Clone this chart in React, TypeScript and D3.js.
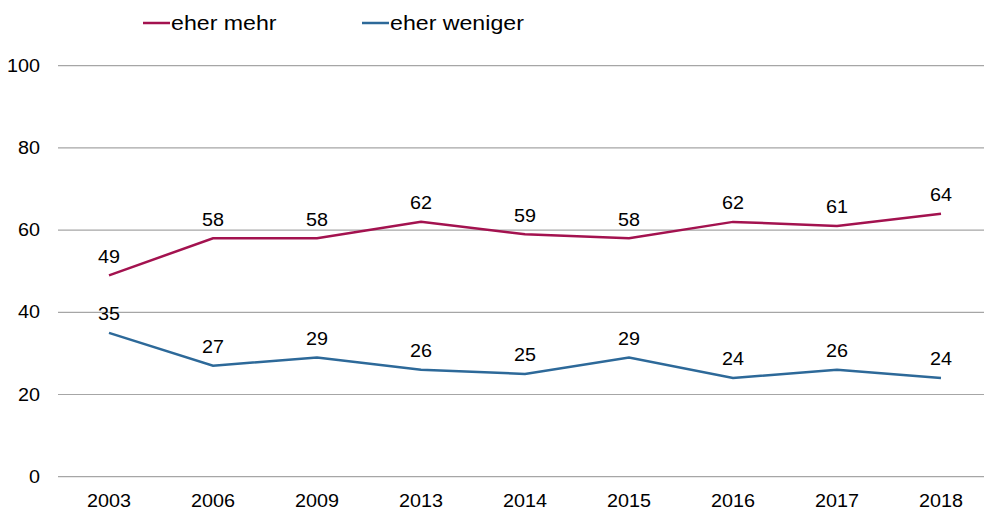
import React from "react";
import * as d3 from "d3";

const categories = ["2003", "2006", "2009", "2013", "2014", "2015", "2016", "2017", "2018"];
const eherMehr = [49, 58, 58, 62, 59, 58, 62, 61, 64];
const eherWeniger = [35, 27, 29, 26, 25, 29, 24, 26, 24];
const yTicks = [0, 20, 40, 60, 80, 100];
const seriesNames = ["eher mehr", "eher weniger"];
const colors = ["#A3124F", "#2D6999"];

const SX = 1.13;

function T(props: { x: number; y: number; size: number; anchor?: string; children: React.ReactNode; dy?: string }) {
  return (
    <text
      transform={`translate(${props.x},${props.y}) scale(${SX},1)`}
      textAnchor={props.anchor || "start"}
      fontSize={props.size}
      dy={props.dy}
      fill="#000"
    >
      {props.children}
    </text>
  );
}

export default function App() {
  const W = 984, H = 510;
  const x = d3.scalePoint<string>().domain(categories).range([109, 941]);
  const y = d3.scaleLinear().domain([0, 100]).range([476.7, 65.7]);
  const line = d3.line<number>().x((_, i) => x(categories[i])!).y((d) => y(d));
  const font = "Liberation Sans, Arial, sans-serif";
  const series = [eherMehr, eherWeniger];
  const legendX = [143, 362];
  return (
    <svg width={W} height={H} style={{ position: "absolute", left: 0, top: 0 }} fontFamily={font}>
      {yTicks.map((t) => (
        <g key={t}>
          <line x1={58} x2={984} y1={y(t)} y2={y(t)} stroke="#A6A6A6" strokeWidth={1.2} />
          <T x={40} y={y(t)} dy="0.35em" anchor="end" size={17.5}>{t}</T>
        </g>
      ))}
      {categories.map((c) => (
        <T key={c} x={x(c)!} y={507} anchor="middle" size={17.5}>{c}</T>
      ))}
      {series.map((s, si) => (
        <g key={si}>
          <path d={line(s)!} fill="none" stroke={colors[si]} strokeWidth={2.5} />
          {s.map((v, i) => (
            <T key={i} x={x(categories[i])!} y={y(v) - 12.7} anchor="middle" size={17.5}>{v}</T>
          ))}
        </g>
      ))}
      {seriesNames.map((n, i) => (
        <g key={n}>
          <line x1={legendX[i]} x2={legendX[i] + 27} y1={23} y2={23} stroke={colors[i]} strokeWidth={2.5} />
          <T x={legendX[i] + 28} y={23} dy="0.35em" size={20.5}>{n}</T>
        </g>
      ))}
    </svg>
  );
}
